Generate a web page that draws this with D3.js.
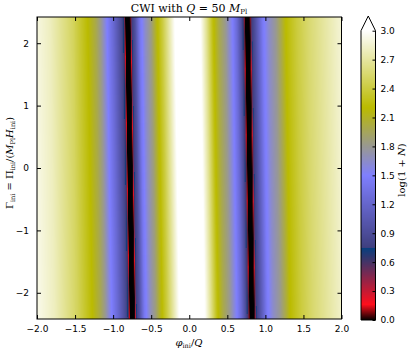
<!DOCTYPE html>
<html><head><meta charset="utf-8">
<script src="https://cdn.jsdelivr.net/npm/d3@7"></script>
<style>body{margin:0;background:#fff}svg{display:block}</style>
</head><body>
<div id="chart"></div>
<script>
// ---- data ----
// profile of log(1+N) along phi_ini/Q (at Gamma_ini = 0)
const profileX = [-2.0,-1.8,-1.6,-1.5,-1.4,-1.3,-1.2,-1.13,-1.05,-0.97,-0.9,-0.86,-0.835,-0.822,-0.815,-0.808,-0.745,-0.738,-0.731,-0.72,-0.68,-0.62,-0.55,-0.47,-0.40,-0.32,-0.24,-0.16,-0.1,0.0,0.1,0.18,0.26,0.34,0.42,0.51,0.6,0.66,0.71,0.74,0.752,0.759,0.766,0.83,0.837,0.844,0.856,0.89,0.93,1.0,1.08,1.17,1.24,1.3,1.45,1.6,1.8,2.0];
const profileV = [2.92,2.8,2.6,2.5,2.35,2.2,2.0,1.8,1.5,1.25,1.0,0.85,0.72,0.5,0.15,0.0,0.0,0.15,0.5,0.75,0.95,1.4,1.65,1.85,2.15,2.4,2.7,3.0,3.3,3.5,3.3,3.0,2.65,2.25,2.0,1.8,1.5,1.25,0.95,0.72,0.5,0.15,0.0,0.0,0.15,0.5,0.75,0.9,1.1,1.45,1.65,1.8,2.0,2.2,2.4,2.55,2.7,2.85];
// horizontal drift of the pattern with Gamma_ini
const rowY = [2.42, 0.0, -2.42];
const rowShift = [-0.03, 0.0, 0.03];
const xTicks = [-2.0,-1.5,-1.0,-0.5,0.0,0.5,1.0,1.5,2.0];
const yTicks = [-2,-1,0,1,2];
const cbTicks = [0.0,0.3,0.6,0.9,1.2,1.5,1.8,2.1,2.4,2.7,3.0];

const W = 413, H = 352;
const m = {l:37, r:341.5, t:17, b:319};
const x = d3.scaleLinear().domain([-2,2]).range([m.l, m.r]);
const y = d3.scaleLinear().domain([-2.42,2.42]).range([m.b, m.t]);
const prof = d3.scaleLinear().domain(profileX).range(profileV).clamp(true);
const shift = d3.scaleLinear().domain(rowY).range(rowShift);

// gist_stern colormap
const cr = d3.scaleLinear().domain([0,0.0547,0.25,0.25001,1]).range([0,1,0.027,0.25,1]).clamp(true);
const cg = d3.scaleLinear().domain([0,1]).range([0,1]).clamp(true);
const cb = d3.scaleLinear().domain([0,0.5,0.735,1]).range([0,1,0,1]).clamp(true);
const vmax = 3.0;
function cmap(v){const t=Math.max(0,Math.min(1,v/vmax));return [cr(t)*255,cg(t)*255,cb(t)*255];}

const svg = d3.select("#chart").append("svg").attr("width",W).attr("height",H)
  .style("font-family","'DejaVu Sans', sans-serif");

// heatmap image
const pw = Math.round(m.r-m.l), ph = Math.round(m.b-m.t);
const cv = document.createElement("canvas"); cv.width=pw; cv.height=ph;
const ctx = cv.getContext("2d"); const img = ctx.createImageData(pw,ph);
for(let j=0;j<ph;j++){
  const yv = y.invert(m.t+j+0.5); const s = shift(yv);
  for(let i=0;i<pw;i++){
    const xv = x.invert(m.l+i+0.5);
    const c = cmap(prof(xv - s)); const k=(j*pw+i)*4;
    img.data[k]=c[0];img.data[k+1]=c[1];img.data[k+2]=c[2];img.data[k+3]=255;
  }
}
ctx.putImageData(img,0,0);
svg.append("image").attr("x",m.l).attr("y",m.t).attr("width",m.r-m.l).attr("height",m.b-m.t)
  .attr("preserveAspectRatio","none").attr("href",cv.toDataURL());

// frame
svg.append("rect").attr("x",m.l).attr("y",m.t).attr("width",m.r-m.l).attr("height",m.b-m.t)
  .attr("fill","none").attr("stroke","#000").attr("stroke-width",1);

// axes (ticks inside)
const fmt1 = d=> (d<0?"\u2212":"")+Math.abs(d).toFixed(1);
const fmt0 = d=> (d<0?"\u2212":"")+Math.abs(d);
const gx = svg.append("g").attr("transform",`translate(0,${m.b})`)
  .call(d3.axisBottom(x).tickValues(xTicks).tickSizeInner(-4).tickSizeOuter(0).tickPadding(7).tickFormat(fmt1));
const gxt = svg.append("g").attr("transform",`translate(0,${m.t})`)
  .call(d3.axisTop(x).tickValues(xTicks).tickSizeInner(-4).tickSizeOuter(0).tickFormat(""));
const gy = svg.append("g").attr("transform",`translate(${m.l},0)`)
  .call(d3.axisLeft(y).tickValues(yTicks).tickSizeInner(-4).tickSizeOuter(0).tickPadding(8).tickFormat(fmt0));
const gyr = svg.append("g").attr("transform",`translate(${m.r},0)`)
  .call(d3.axisRight(y).tickValues(yTicks).tickSizeInner(-4).tickSizeOuter(0).tickFormat(""));
[gx,gxt,gy,gyr].forEach(g=>{g.select(".domain").remove();
  g.selectAll("text").attr("font-size",9).attr("font-family","'DejaVu Sans', sans-serif").attr("fill","#000");
  g.selectAll("line").attr("stroke","#000");});

// colorbar
const cbx0=361, cbx1=375.5, cbTop=30.7, cbBot=320, tip=16;
const cy = d3.scaleLinear().domain([0,3]).range([cbBot,cbTop]);
const ch = Math.round(cbBot-cbTop);
const cv2 = document.createElement("canvas"); cv2.width=1; cv2.height=ch;
const ctx2 = cv2.getContext("2d"); const im2 = ctx2.createImageData(1,ch);
for(let j=0;j<ch;j++){const c=cmap(cy.invert(cbTop+j+0.5));const k=j*4;
  im2.data[k]=c[0];im2.data[k+1]=c[1];im2.data[k+2]=c[2];im2.data[k+3]=255;}
ctx2.putImageData(im2,0,0);
svg.append("image").attr("x",cbx0).attr("y",cbTop).attr("width",cbx1-cbx0).attr("height",cbBot-cbTop)
  .attr("preserveAspectRatio","none").attr("href",cv2.toDataURL());
const oc = cmap(vmax+1);
svg.append("path").attr("d",`M${cbx0},${cbTop}L${cbx0},${cbBot}L${cbx1},${cbBot}L${cbx1},${cbTop}L${(cbx0+cbx1)/2},${tip}Z`)
  .attr("fill","none").attr("stroke","#000").attr("stroke-width",1);
svg.insert("path","image").attr("d",`M${cbx0},${cbTop}L${cbx1},${cbTop}L${(cbx0+cbx1)/2},${tip}Z`)
  .attr("fill",`rgb(${oc.join(",")})`);
const gc = svg.append("g").attr("transform",`translate(${cbx1},0)`)
  .call(d3.axisRight(cy).tickValues(cbTicks).tickSizeInner(-3).tickSizeOuter(0).tickPadding(5).tickFormat(d=>d.toFixed(1)));
gc.select(".domain").remove();
gc.selectAll("text").attr("font-size",9).attr("font-family","'DejaVu Sans', sans-serif").attr("fill","#000");
gc.selectAll("line").attr("stroke","#000");

// labels
const serif = "'DejaVu Serif', 'Liberation Serif', serif";
const title = svg.append("text").attr("x",189).attr("y",12).attr("text-anchor","middle")
  .attr("font-size",11).attr("font-family",serif);
title.append("tspan").text("CWI with ");
title.append("tspan").attr("font-style","italic").text("Q");
title.append("tspan").text(" = 50 ");
title.append("tspan").attr("font-style","italic").text("M");
title.append("tspan").attr("font-size",7).attr("dy",2).text("Pl");

const xl = svg.append("text").attr("x",189).attr("y",346).attr("text-anchor","middle")
  .attr("font-size",10).attr("font-family",serif);
xl.append("tspan").attr("font-style","italic").text("\u03c6");
xl.append("tspan").attr("font-size",6.5).attr("dy",2).text("ini");
xl.append("tspan").attr("dy",-2).text("/");
xl.append("tspan").attr("font-style","italic").text("Q");

const yl = svg.append("text").attr("transform","translate(13,163) rotate(-90)").attr("text-anchor","middle")
  .attr("font-size",10).attr("font-family",serif);
yl.append("tspan").text("\u0393");
yl.append("tspan").attr("font-size",6.5).attr("dy",2).text("ini");
yl.append("tspan").attr("dy",-2).text(" = \u03a0");
yl.append("tspan").attr("font-size",6.5).attr("dy",2).text("ini");
yl.append("tspan").attr("dy",-2).text("/(");
yl.append("tspan").attr("font-style","italic").text("M");
yl.append("tspan").attr("font-size",6.5).attr("dy",2).text("Pl");
yl.append("tspan").attr("dy",-2).attr("font-style","italic").text("H");
yl.append("tspan").attr("font-size",6.5).attr("dy",2).text("ini");
yl.append("tspan").attr("dy",-2).text(")");

const cl = svg.append("text").attr("transform","translate(405,170) rotate(-90)").attr("text-anchor","middle")
  .attr("font-size",10).attr("font-family",serif);
cl.append("tspan").text("log(1 + ");
cl.append("tspan").attr("font-style","italic").text("N");
cl.append("tspan").text(")");
</script>
</body></html>
